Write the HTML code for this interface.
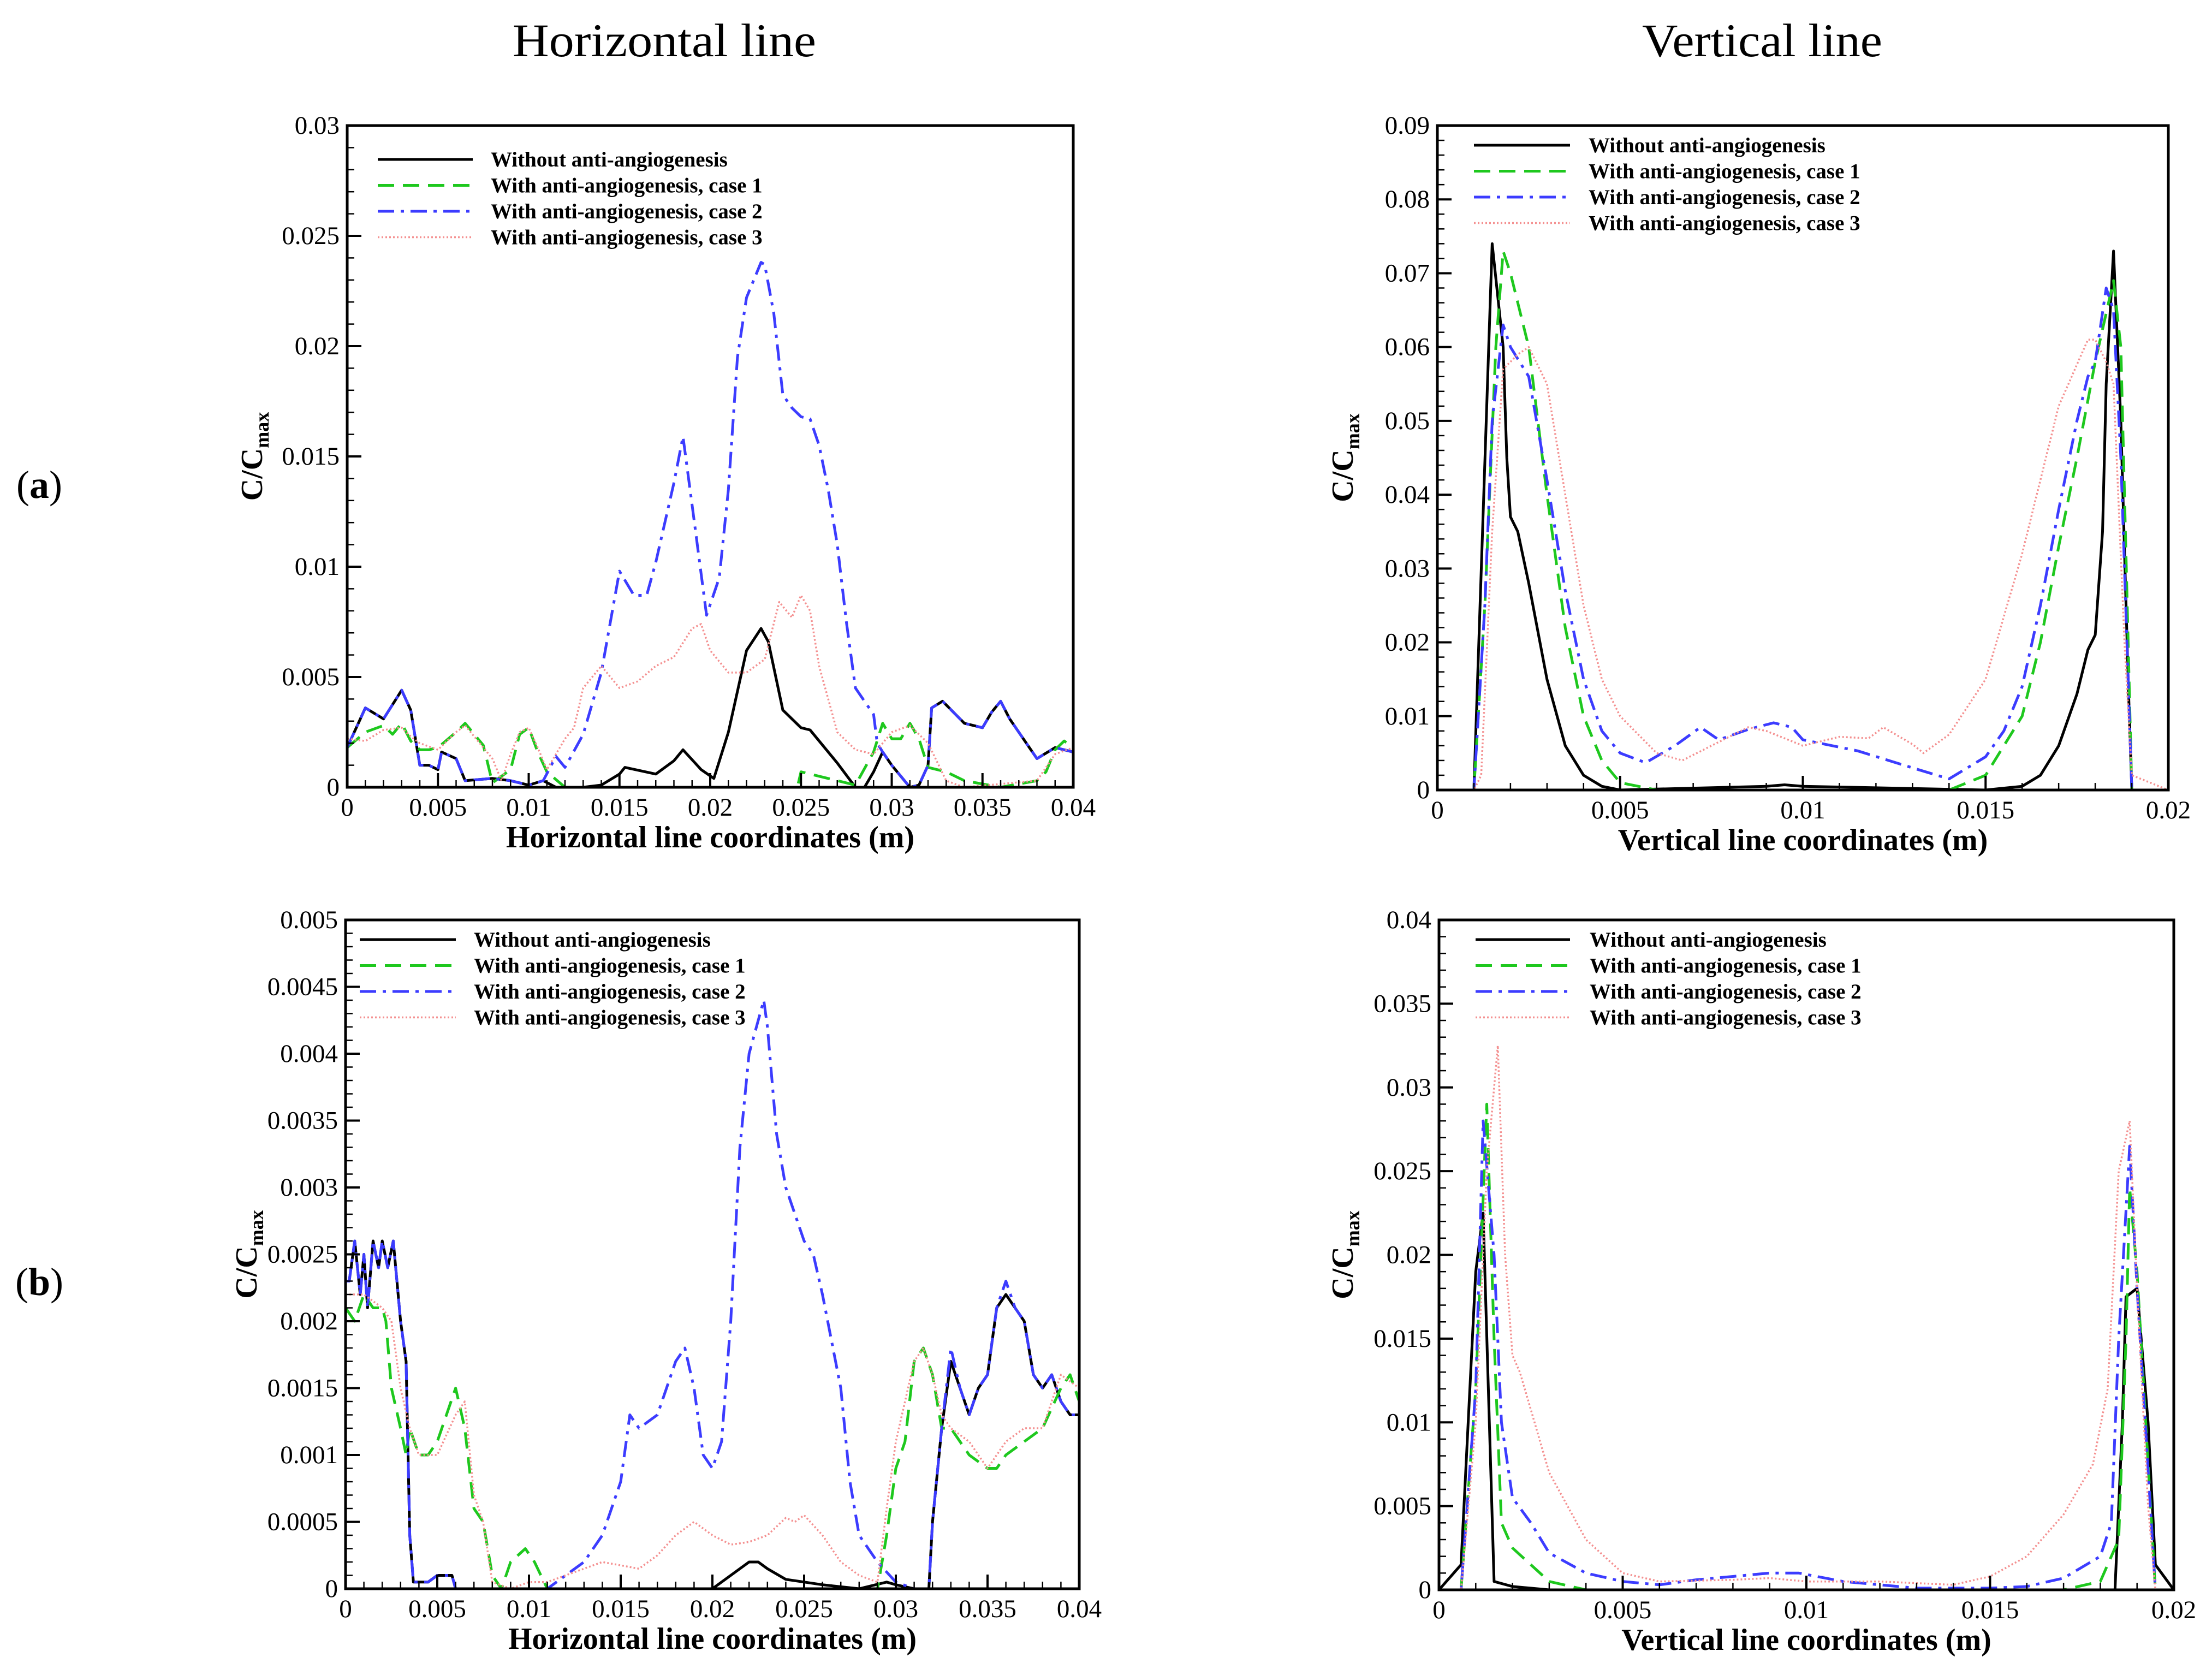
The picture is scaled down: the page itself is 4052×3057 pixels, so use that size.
<!DOCTYPE html>
<html><head><meta charset="utf-8"><style>
html,body{margin:0;padding:0;background:#fff;}
svg{display:block;font-family:"Liberation Serif",serif;}
</style></head><body>
<svg id="fig" width="4052" height="3057" viewBox="0 0 4052 3057" xmlns="http://www.w3.org/2000/svg">
<rect width="4052" height="3057" fill="#fff"/>
<text x="1217" y="103" font-size="86" text-anchor="middle" textLength="556" lengthAdjust="spacingAndGlyphs">Horizontal line</text>
<text x="3228" y="103" font-size="86" text-anchor="middle" textLength="440" lengthAdjust="spacingAndGlyphs">Vertical line</text>
<text x="72" y="912" font-size="72" text-anchor="middle">(<tspan font-weight="bold">a</tspan>)</text>
<text x="72" y="2372" font-size="72" text-anchor="middle">(<tspan font-weight="bold">b</tspan>)</text>
<g id="plots"></g>
</svg>
<script>
// ---------- data (x in m, y = C/Cmax) ----------
const legendLabels = ["Without anti-angiogenesis","With anti-angiogenesis, case 1","With anti-angiogenesis, case 2","With anti-angiogenesis, case 3"];

const aH_none = [[0,0.0018],[0.001,0.0036],[0.002,0.0031],[0.003,0.0044],[0.0035,0.0035],[0.004,0.001],[0.0045,0.001],[0.005,0.0008],[0.0052,0.0016],[0.006,0.0013],[0.0065,0.0003],[0.008,0.0004],[0.009,0.0003],[0.010,0.0001],[0.0108,0.0003],[0.0115,0],[0.013,0],[0.014,0.0001],[0.015,0.0006],[0.0153,0.0009],[0.017,0.0006],[0.018,0.0012],[0.0185,0.0017],[0.0195,0.0008],[0.0202,0.0004],[0.021,0.0025],[0.022,0.0062],[0.0228,0.0072],[0.0232,0.0066],[0.024,0.0035],[0.025,0.0027],[0.0255,0.0026],[0.027,0.0011],[0.028,0],[0.0285,0],[0.029,0.0007],[0.0295,0.0016],[0.030,0.001],[0.031,0],[0.0315,0.0001],[0.032,0.001],[0.0322,0.0036],[0.0328,0.0039],[0.034,0.0029],[0.035,0.0027],[0.0355,0.0034],[0.036,0.0039],[0.0365,0.0031],[0.038,0.0013],[0.039,0.0018],[0.04,0.0016]];
const aH_case1 = [[0,0.0018],[0.001,0.0025],[0.002,0.0028],[0.0025,0.0024],[0.003,0.0029],[0.0035,0.0021],[0.004,0.0017],[0.0045,0.0017],[0.005,0.0018],[0.006,0.0025],[0.0065,0.0029],[0.0075,0.0019],[0.008,0.0002],[0.009,0.0008],[0.0095,0.0024],[0.01,0.0027],[0.0105,0.0016],[0.011,0.0007],[0.012,0],[0.0248,0],[0.025,0.0007],[0.026,0.0005],[0.028,0.0001],[0.029,0.0016],[0.0295,0.0029],[0.030,0.0022],[0.0305,0.0022],[0.031,0.0029],[0.0315,0.0022],[0.032,0.0009],[0.033,0.0007],[0.034,0.0003],[0.036,0],[0.038,0.0003],[0.0385,0.0007],[0.039,0.0017],[0.0395,0.0021],[0.04,0.0018]];
const aH_case2 = [[0,0.0018],[0.001,0.0036],[0.002,0.0031],[0.003,0.0044],[0.0035,0.0035],[0.004,0.001],[0.0045,0.001],[0.005,0.0008],[0.0052,0.0016],[0.006,0.0013],[0.0065,0.0003],[0.008,0.0004],[0.009,0.0003],[0.010,0.0001],[0.0108,0.0003],[0.0115,0.0014],[0.012,0.0009],[0.013,0.0024],[0.014,0.0052],[0.015,0.0098],[0.0158,0.0087],[0.0165,0.0087],[0.017,0.0102],[0.018,0.0138],[0.0185,0.0159],[0.019,0.0128],[0.0198,0.0078],[0.0205,0.0095],[0.021,0.0135],[0.0215,0.0195],[0.022,0.0222],[0.0228,0.0238],[0.023,0.0237],[0.0235,0.0215],[0.024,0.0178],[0.0245,0.0172],[0.025,0.0168],[0.0255,0.0167],[0.026,0.0155],[0.0265,0.0135],[0.027,0.011],[0.0275,0.0075],[0.028,0.0045],[0.029,0.0033],[0.0292,0.002],[0.0295,0.0016],[0.030,0.001],[0.031,0],[0.0315,0.0001],[0.032,0.001],[0.0322,0.0036],[0.0328,0.0039],[0.034,0.0029],[0.035,0.0027],[0.0355,0.0034],[0.036,0.0039],[0.0365,0.0031],[0.038,0.0013],[0.039,0.0018],[0.04,0.0016]];
const aH_case3 = [[0,0.0022],[0.001,0.0021],[0.002,0.0026],[0.003,0.0027],[0.0035,0.0023],[0.004,0.002],[0.005,0.0017],[0.006,0.0025],[0.0065,0.0028],[0.007,0.0023],[0.008,0.0013],[0.0085,0.0003],[0.009,0.0015],[0.0095,0.0025],[0.010,0.0027],[0.0105,0.0018],[0.011,0.0008],[0.012,0.0022],[0.0125,0.0027],[0.013,0.0045],[0.014,0.0055],[0.015,0.0045],[0.016,0.0048],[0.017,0.0055],[0.018,0.0059],[0.019,0.0072],[0.0195,0.0074],[0.020,0.0062],[0.021,0.0052],[0.022,0.0052],[0.023,0.0058],[0.0238,0.0084],[0.0245,0.0077],[0.025,0.0087],[0.0255,0.008],[0.026,0.0055],[0.027,0.0025],[0.028,0.0017],[0.029,0.0015],[0.030,0.0025],[0.031,0.0028],[0.032,0.002],[0.033,0.0003],[0.034,0],[0.038,0.0003],[0.039,0.0015],[0.04,0.0018]];

const aV_none = [[0,0],[0.001,0],[0.0015,0.074],[0.0018,0.06],[0.0019,0.045],[0.002,0.037],[0.0022,0.035],[0.0025,0.028],[0.003,0.015],[0.0035,0.006],[0.004,0.002],[0.0045,0.0005],[0.005,0],[0.009,0.0005],[0.0095,0.0007],[0.010,0.0005],[0.015,0],[0.016,0.0005],[0.0165,0.002],[0.017,0.006],[0.0175,0.013],[0.0178,0.019],[0.018,0.021],[0.0182,0.035],[0.0183,0.055],[0.0185,0.073],[0.0187,0.05],[0.0189,0.015],[0.019,0],[0.02,0]];
const aV_case1 = [[0,0],[0.001,0],[0.0013,0.025],[0.0016,0.06],[0.0018,0.073],[0.002,0.07],[0.0025,0.06],[0.003,0.04],[0.0035,0.022],[0.004,0.01],[0.0045,0.004],[0.005,0.001],[0.006,0],[0.014,0],[0.015,0.002],[0.016,0.01],[0.0165,0.02],[0.017,0.033],[0.0175,0.045],[0.018,0.058],[0.0185,0.069],[0.0187,0.06],[0.019,0],[0.02,0]];
const aV_case2 = [[0,0],[0.001,0],[0.0013,0.025],[0.0015,0.05],[0.0018,0.063],[0.002,0.06],[0.0025,0.056],[0.003,0.042],[0.0035,0.027],[0.004,0.015],[0.0045,0.008],[0.005,0.005],[0.0057,0.0037],[0.0065,0.006],[0.0072,0.0085],[0.0077,0.0068],[0.0085,0.0082],[0.0092,0.0091],[0.0097,0.0085],[0.010,0.0068],[0.0115,0.0053],[0.013,0.003],[0.014,0.0015],[0.015,0.0045],[0.0155,0.008],[0.016,0.014],[0.0165,0.025],[0.017,0.038],[0.0175,0.05],[0.0178,0.056],[0.018,0.058],[0.0183,0.068],[0.0185,0.065],[0.0187,0.045],[0.019,0],[0.02,0]];
const aV_case3 = [[0,0],[0.001,0],[0.0012,0.002],[0.0015,0.035],[0.0018,0.057],[0.0022,0.059],[0.0025,0.06],[0.003,0.055],[0.0035,0.04],[0.004,0.025],[0.0045,0.015],[0.005,0.01],[0.006,0.005],[0.0067,0.004],[0.0075,0.006],[0.0085,0.0085],[0.009,0.008],[0.010,0.006],[0.011,0.0072],[0.0118,0.007],[0.0122,0.0085],[0.013,0.0062],[0.0133,0.005],[0.014,0.0075],[0.015,0.015],[0.016,0.032],[0.017,0.052],[0.0178,0.061],[0.018,0.061],[0.0183,0.058],[0.0185,0.055],[0.0188,0.02],[0.019,0.002],[0.02,0]];

const bH_none = [[0,0.0023],[0.0002,0.0023],[0.0005,0.0026],[0.0008,0.0022],[0.001,0.0025],[0.0012,0.0021],[0.0015,0.0026],[0.0018,0.0024],[0.002,0.0026],[0.0023,0.0024],[0.0026,0.0026],[0.003,0.002],[0.0033,0.0017],[0.0035,0.0004],[0.0037,0.00005],[0.0045,0.00005],[0.005,0.0001],[0.0058,0.0001],[0.006,0],[0.02,0],[0.021,0.0001],[0.022,0.0002],[0.0225,0.0002],[0.023,0.00015],[0.024,0.00007],[0.026,0.00003],[0.028,0],[0.0295,0.00005],[0.030,0.00003],[0.031,0],[0.0318,0],[0.032,0.0005],[0.0325,0.0012],[0.033,0.0017],[0.0335,0.0015],[0.034,0.0013],[0.0345,0.0015],[0.035,0.0016],[0.0355,0.0021],[0.036,0.0022],[0.0365,0.0021],[0.037,0.002],[0.0375,0.0016],[0.038,0.0015],[0.0385,0.0016],[0.039,0.0014],[0.0395,0.0013],[0.04,0.0013]];
const bH_case1 = [[0,0.0021],[0.0005,0.002],[0.001,0.0022],[0.0015,0.0021],[0.002,0.0021],[0.0022,0.002],[0.0025,0.0015],[0.003,0.0012],[0.0033,0.001],[0.0035,0.0012],[0.004,0.001],[0.0045,0.001],[0.005,0.0011],[0.0055,0.0013],[0.006,0.0015],[0.0065,0.0012],[0.007,0.0006],[0.0075,0.0005],[0.008,0.0001],[0.0085,0],[0.009,0.0002],[0.0098,0.0003],[0.0103,0.0002],[0.011,0],[0.029,0],[0.0295,0.0004],[0.030,0.0009],[0.0305,0.0011],[0.031,0.0017],[0.0315,0.0018],[0.032,0.0016],[0.0325,0.0012],[0.033,0.0012],[0.034,0.001],[0.035,0.0009],[0.0355,0.0009],[0.036,0.001],[0.037,0.0011],[0.038,0.0012],[0.039,0.0015],[0.0395,0.0016],[0.04,0.0014]];
const bH_case2 = [[0,0.0023],[0.0002,0.0023],[0.0005,0.0026],[0.0008,0.0022],[0.001,0.0025],[0.0012,0.0021],[0.0015,0.0026],[0.0018,0.0024],[0.002,0.0026],[0.0023,0.0024],[0.0026,0.0026],[0.003,0.002],[0.0033,0.0017],[0.0035,0.0004],[0.0037,0.00005],[0.0045,0.00005],[0.005,0.0001],[0.0058,0.0001],[0.006,0],[0.011,0],[0.012,0.0001],[0.013,0.0002],[0.014,0.0004],[0.015,0.0008],[0.0155,0.0013],[0.016,0.0012],[0.017,0.0013],[0.018,0.0017],[0.0185,0.0018],[0.019,0.0015],[0.0195,0.001],[0.020,0.0009],[0.0205,0.0011],[0.021,0.002],[0.0215,0.0033],[0.022,0.004],[0.0228,0.0044],[0.023,0.0042],[0.0235,0.0034],[0.024,0.003],[0.025,0.0026],[0.0255,0.0025],[0.026,0.0022],[0.027,0.0015],[0.0275,0.0008],[0.028,0.0004],[0.029,0.0002],[0.030,0.00005],[0.031,0],[0.0318,0],[0.032,0.0005],[0.0325,0.0012],[0.033,0.0018],[0.0335,0.0015],[0.034,0.0013],[0.0345,0.0015],[0.035,0.0016],[0.0355,0.0021],[0.036,0.0023],[0.0365,0.0021],[0.037,0.002],[0.0375,0.0016],[0.038,0.0015],[0.0385,0.0016],[0.039,0.0014],[0.0395,0.0013],[0.04,0.0013]];
const bH_case3 = [[0,0.0022],[0.001,0.0022],[0.002,0.0021],[0.0025,0.002],[0.003,0.0015],[0.0035,0.0012],[0.004,0.001],[0.005,0.001],[0.006,0.0013],[0.0065,0.0014],[0.007,0.0007],[0.0075,0.0005],[0.008,0.00005],[0.009,0],[0.010,0.00005],[0.011,0.00005],[0.012,0.0001],[0.013,0.00015],[0.014,0.0002],[0.016,0.00015],[0.017,0.00025],[0.018,0.0004],[0.019,0.0005],[0.020,0.0004],[0.021,0.00033],[0.022,0.00035],[0.023,0.0004],[0.024,0.00053],[0.0245,0.0005],[0.025,0.00055],[0.026,0.0004],[0.027,0.0002],[0.028,0.0001],[0.029,0.00005],[0.0295,0.0006],[0.030,0.0011],[0.031,0.0017],[0.0315,0.0018],[0.032,0.0016],[0.0325,0.0013],[0.033,0.0012],[0.034,0.0011],[0.035,0.0009],[0.036,0.0011],[0.037,0.0012],[0.038,0.0012],[0.039,0.0016],[0.04,0.0015]];

const bV_none = [[0,0],[0.0006,0.0015],[0.001,0.019],[0.0012,0.0225],[0.0015,0.0005],[0.002,0.0002],[0.003,0],[0.0184,0],[0.0186,0.01],[0.0187,0.0175],[0.019,0.018],[0.0193,0.01],[0.0195,0.0015],[0.02,0]];
const bV_case1 = [[0,0],[0.0006,0],[0.001,0.012],[0.0013,0.029],[0.0015,0.015],[0.0017,0.004],[0.002,0.0025],[0.003,0.0005],[0.004,0],[0.017,0],[0.018,0.0005],[0.0185,0.003],[0.0187,0.015],[0.0188,0.024],[0.019,0.019],[0.0195,0],[0.02,0]];
const bV_case2 = [[0,0],[0.0006,0],[0.001,0.012],[0.0012,0.028],[0.0015,0.02],[0.0017,0.01],[0.002,0.0055],[0.0025,0.004],[0.003,0.0022],[0.004,0.001],[0.005,0.0005],[0.006,0.0003],[0.007,0.0006],[0.008,0.0008],[0.009,0.001],[0.0098,0.001],[0.011,0.0005],[0.013,0.0001],[0.015,0.0001],[0.016,0.0002],[0.017,0.0007],[0.018,0.002],[0.0183,0.004],[0.0185,0.015],[0.0188,0.0265],[0.019,0.018],[0.0195,0],[0.02,0]];
const bV_case3 = [[0,0],[0.0006,0],[0.001,0.01],[0.0013,0.025],[0.0016,0.0325],[0.0018,0.02],[0.002,0.014],[0.0022,0.013],[0.003,0.007],[0.004,0.003],[0.005,0.001],[0.006,0.0005],[0.008,0.0006],[0.009,0.0007],[0.010,0.0005],[0.012,0.0005],[0.014,0.0003],[0.015,0.0008],[0.016,0.002],[0.017,0.0045],[0.0178,0.0075],[0.0182,0.012],[0.0185,0.025],[0.0188,0.028],[0.019,0.018],[0.0193,0.005],[0.0195,0],[0.02,0]];

const xTicksH = ["0","0.005","0.01","0.015","0.02","0.025","0.03","0.035","0.04"];
const xTicksV = ["0","0.005","0.01","0.015","0.02"];
const yTicksAH = ["0","0.005","0.01","0.015","0.02","0.025","0.03"];
const yTicksAV = ["0","0.01","0.02","0.03","0.04","0.05","0.06","0.07","0.08","0.09"];
const yTicksBH = ["0","0.0005","0.001","0.0015","0.002","0.0025","0.003","0.0035","0.004","0.0045","0.005"];
const yTicksBV = ["0","0.005","0.01","0.015","0.02","0.025","0.03","0.035","0.04"];

// ---------- rendering ----------
const NS = "http://www.w3.org/2000/svg";
const root = document.getElementById("plots");
function mk(tag, attrs, parent){
  const e = document.createElementNS(NS, tag);
  for (const k in attrs) e.setAttribute(k, attrs[k]);
  (parent||root).appendChild(e);
  return e;
}
const styles = [
  {stroke:"#000", w:5, dash:""},
  {stroke:"#1ec81e", w:5, dash:"30 16"},
  {stroke:"#3c3cff", w:5, dash:"30 12 6 12"},
  {stroke:"#f49090", w:3.5, dash:"3 4"}
];
const seriesNames = ["series-without","series-case-1","series-case-2","series-case-3"];

function panel(id, box, xLabels, xMinor, yLabels, yMinor, series, xTitle, yTitleX, legend){
  const g = mk("g", {});
  
  
  const [L,T,R,B] = box;
  const xMax = parseFloat(xLabels[xLabels.length-1]);
  const yMax = parseFloat(yLabels[yLabels.length-1]);
  const sx = v => L + v/xMax*(R-L);
  const sy = v => B - v/yMax*(B-T);
  const cid = id+"-clip";
  const cp = mk("clipPath", {id:cid}, g);
  mk("rect",{x:L,y:T,width:R-L,height:B-T}, cp);
  const sg = mk("g", {"clip-path":"url(#"+cid+")"}, g);
  series.forEach((pts,i)=>{
    const d = pts.map((p,j)=>(j?"L":"M")+sx(p[0]).toFixed(1)+" "+sy(p[1]).toFixed(1)).join(" ");
    const p = mk("path",{d:d,fill:"none",stroke:styles[i].stroke,"stroke-width":styles[i].w,"stroke-dasharray":styles[i].dash,"stroke-linejoin":"round"}, sg);
    
    
  });
  const nyMaj = yLabels.length-1, nxMaj = xLabels.length-1;
  for (let k=0;k<=nyMaj*yMinor;k++){
    const y = B - k/(nyMaj*yMinor)*(B-T);
    const maj = k%yMinor===0;
    mk("line",{x1:L,x2:L+(maj?26:13),y1:y,y2:y,stroke:"#000","stroke-width":maj?4:2.5}, g);
  }
  for (let k=0;k<=nxMaj*xMinor;k++){
    const x = L + k/(nxMaj*xMinor)*(R-L);
    const maj = k%xMinor===0;
    mk("line",{x1:x,x2:x,y1:B,y2:B-(maj?26:13),stroke:"#000","stroke-width":maj?4:2.5}, g);
  }
  yLabels.forEach((s,k)=>{
    const t = mk("text",{x:L-14,y:sy(parseFloat(s))+15,"font-size":47,"text-anchor":"end"}, g);
    t.textContent = s;
    
    
  });
  xLabels.forEach((s,k)=>{
    const t = mk("text",{x:sx(parseFloat(s)),y:B+52,"font-size":47,"text-anchor":"middle"}, g);
    t.textContent = s;
    
    
  });
  const fr = mk("rect",{x:L,y:T,width:R-L,height:B-T,fill:"none",stroke:"#000","stroke-width":5}, g);
  
  
  const xt = mk("text",{x:(L+R)/2,y:B+110,"font-size":56,"font-weight":"bold","text-anchor":"middle"}, g);
  xt.textContent = xTitle;
  
  
  const yc = (T+B)/2;
  const yt = mk("text",{x:yTitleX,y:yc,"font-size":56,"font-weight":"bold","text-anchor":"middle",transform:"rotate(-90 "+yTitleX+" "+yc+")"}, g);
  
  
  yt.appendChild(document.createTextNode("C/C"));
  const sub = mk("tspan",{"font-size":36,dy:12}, yt);
  sub.textContent = "max";
  const [lx1,lx2,tx,ly0] = legend;
  legendLabels.forEach((s,i)=>{
    const y = ly0 + i*47.5;
    const ln = mk("line",{x1:lx1,x2:lx2,y1:y,y2:y,stroke:styles[i].stroke,"stroke-width":styles[i].w,"stroke-dasharray":styles[i].dash}, g);
    
    
    const t = mk("text",{x:tx,y:y+13,"font-size":39,"font-weight":"bold"}, g);
    t.textContent = s;
    
    
  });
}

panel("panel-a-horizontal",[636,230,1966,1442],xTicksH,5,yTicksAH,5,[aH_none,aH_case1,aH_case2,aH_case3],"Horizontal line coordinates (m)",480,[692,866,899,292]);
panel("panel-a-vertical",[2633,230,3972,1447],xTicksV,5,yTicksAV,5,[aV_none,aV_case1,aV_case2,aV_case3],"Vertical line coordinates (m)",2478,[2700,2876,2910,266]);
panel("panel-b-horizontal",[633,1685,1977,2910],xTicksH,5,yTicksBH,5,[bH_none,bH_case1,bH_case2,bH_case3],"Horizontal line coordinates (m)",470,[659,835,868,1721]);
panel("panel-b-vertical",[2636,1685,3982,2912],xTicksV,5,yTicksBV,5,[bV_none,bV_case1,bV_case2,bV_case3],"Vertical line coordinates (m)",2478,[2703,2876,2912,1721]);
</script>
</body></html>
